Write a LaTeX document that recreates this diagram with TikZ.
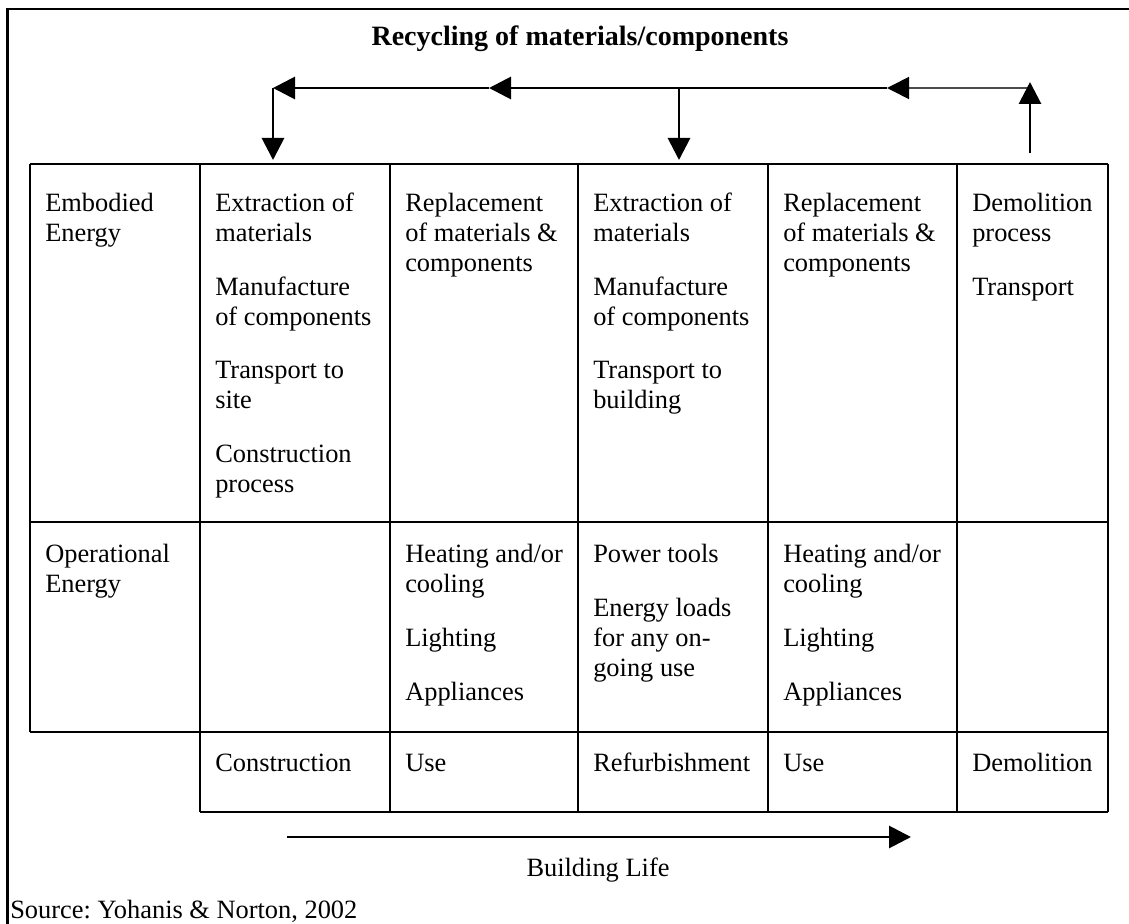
\documentclass[tikz,border=0pt]{standalone}
\usepackage{fontspec}
\setmainfont{Liberation Serif}
\usetikzlibrary{arrows.meta}
\frenchspacing
% a left-aligned stack of lines whose baseline is its first line
\newcommand{\cellstack}[1]{\begin{tabular}[t]{@{}l@{}}#1\end{tabular}}
\newcommand{\pgap}{\\[18pt]}
\begin{document}
\begin{tikzpicture}[x=0.75pt, y=-0.75pt,
  cell/.style={anchor=base west, inner sep=0pt, font=\fontsize{19.8}{22.5}\selectfont},
  plain/.style={anchor=base, inner sep=0pt, font=\fontsize{19.8}{22.5}\selectfont},
  rule/.style={line width=2pt},
  frame/.style={line width=2.2pt},
  flow/.style={line width=2.2pt, -{Triangle[length=16.5pt,width=16.5pt]}},
  thinflow/.style={line width=1.3pt, draw=black!70, -{Triangle[length=16.5pt,width=16.5pt,color=black]}}]
\useasboundingbox (0,0) rectangle (1129,924);
\fill[white] (0,0) rectangle (1129,924);

% outer frame (top and left edges)
\draw[frame] (7.5,924) -- (7.5,9) -- (1129,9);

% title
\node[anchor=base, inner sep=0pt, font=\fontsize{21}{24}\selectfont\bfseries] (title) at (580,46) {Recycling of materials/components};

% table grid
\draw[rule] (30,164) -- (1108,164);
\draw[rule] (30,522) -- (1108,522);
\draw[rule] (30,732) -- (1108,732);
\draw[rule] (200,812) -- (1108,812);
\draw[rule] (30,164) -- (30,732);
\foreach \cx in {200,390,578,768,957,1108} {\draw[rule] (\cx,164) -- (\cx,812);}

% recycling loop above the table
\coordinate (rise) at (1030,88);
\coordinate (tipR) at (887,88);
\coordinate (tipM) at (489,88);
\coordinate (corner) at (273,88);
\coordinate (drop1) at (273,160);
\coordinate (branch) at (679,88);
\coordinate (drop2) at (679,160);
\coordinate (upfoot) at (1030,153);
\coordinate (uptip) at (1030,82);
\draw[thinflow] (rise) -- (tipR);
\draw[flow] (tipR) -- (tipM);
\draw[flow] (tipM) -- (corner);
\draw[flow] (corner) -- (drop1);
\draw[flow] (branch) -- (drop2);
\draw[flow] (upfoot) -- (uptip);

% row 1: embodied energy
\node[cell] (e0) at (45,211) {\cellstack{Embodied\\Energy}};
\node[cell] (e1) at (215,211) {\cellstack{Extraction of\\materials\pgap Manufacture\\of components\pgap Transport to\\site\pgap Construction\\process}};
\node[cell] (e2) at (405,211) {\cellstack{Replacement\\of materials \&\\components}};
\node[cell] (e3) at (593,211) {\cellstack{Extraction of\\materials\pgap Manufacture\\of components\pgap Transport to\\building}};
\node[cell] (e4) at (783,211) {\cellstack{Replacement\\of materials \&\\components}};
\node[cell] (e5) at (972,211) {\cellstack{Demolition\\process\pgap Transport}};

% row 2: operational energy
\node[cell] (o0) at (45,562) {\cellstack{Operational\\Energy}};
\node[cell] (o2) at (405,562) {\cellstack{Heating and/or\\cooling\pgap Lighting\pgap Appliances}};
\node[cell] (o3) at (593,562) {\cellstack{Power tools\pgap Energy loads\\for any on-\\going use}};
\node[cell] (o4) at (783,562) {\cellstack{Heating and/or\\cooling\pgap Lighting\pgap Appliances}};

% row 3: stages
\node[cell] (s1) at (215,771) {Construction};
\node[cell] (s2) at (405,771) {Use};
\node[cell] (s3) at (593,771) {Refurbishment};
\node[cell] (s4) at (783,771) {Use};
\node[cell] (s5) at (972,771) {Demolition};

% building life arrow
\coordinate (lifeA) at (287,837);
\coordinate (lifeB) at (911,837);
\draw[flow] (lifeA) -- (lifeB);
\node[plain] (life) at (598,876) {Building Life};

% source
\node[cell] (src) at (10,918) {Source: Yohanis \& Norton, 2002};
\end{tikzpicture}
\end{document}
